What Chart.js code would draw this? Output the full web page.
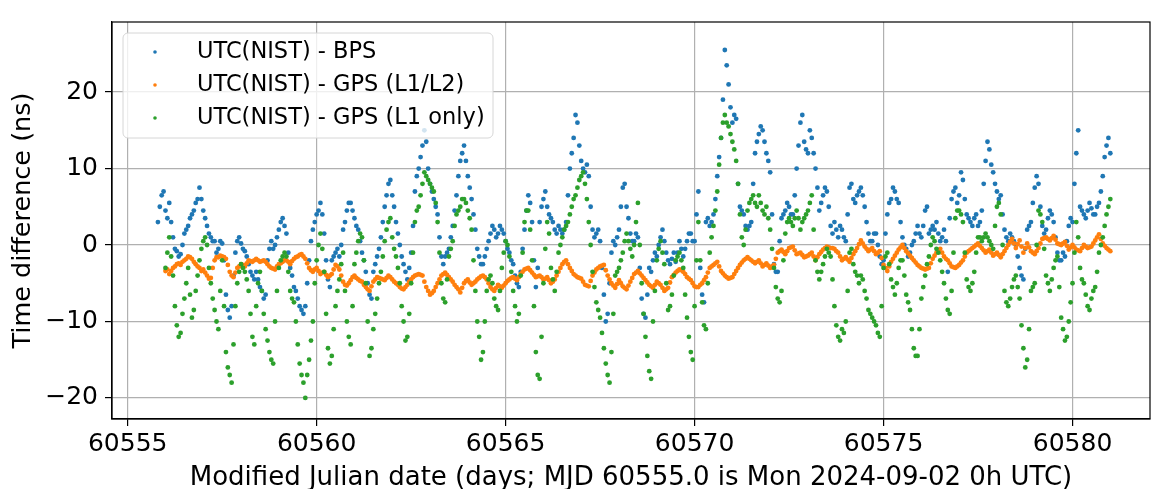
<!DOCTYPE html>
<html lang="en">
<head>
<meta charset="UTF-8">
<title>UTC(NIST) time differences</title>
<script src="https://cdn.jsdelivr.net/npm/chart.js@4"></script>
<style>
  html, body { margin: 0; padding: 0; background: #fff; }
  #wrap { width: 1153px; height: 489px; }
</style>
</head>
<body>
<div id="wrap"><canvas id="chart"></canvas></div>
<script>
// series: one value every 0.1 day, plus a second
// reading half way between (the *Half arrays, starting 0.05 day later)
const seriesLabels = ['UTC(NIST) - BPS', 'UTC(NIST) - GPS (L1/L2)', 'UTC(NIST) - GPS (L1 only)'];
const seriesColors = ['#1f77b4', '#ff7f0e', '#2ca02c'];
const sampleStep = 0.1;

const bpsStart = 60555.8;
const bpsValues = [
  3.0, 6.5,
  4.5, 5.5, 1.0, -0.8, -1.2, 1.5, 2.5, 4.0, 5.5, 7.5,
  4.5, 2.5, 1.0, 0.5, -0.5, 0.2, -6.5, -9.5, -4.0, 0.5,
  0.2, -0.8, -2.5, -4.0, -3.5, -5.5, -7.0, -2.0, 0.5, 0.0,
  2.0, 3.5, 1.5, -3.0, -5.5, -7.0, -8.5, -8.0, -2.0, 2.0,
  4.0, 5.5, 1.5, -4.5, -2.0, -1.0, -1.5, 2.0, 4.5, 5.5,
  3.5, 2.0, -1.0, -3.5, -6.5, -3.5, -1.5, 1.0, 5.0, 8.0,
  6.5, 3.0, 0.0, -2.5, -4.5, -1.0, 7.0, 10.0, 13.0, 13.5,
  8.0, 6.0, 4.0, -1.5, -1.5, -0.5, 2.5, 6.5, 11.0, 13.0,
  9.0, 6.0, 2.0, -1.5, -2.5, -0.5, 1.5, 2.0, 1.5, 2.0,
  0.5, -1.0, -2.5, -5.0, -3.5, 2.0, 6.5, 3.0, -5.5, 3.0,
  6.0, 5.0, 3.5, 2.0, 2.5, 1.5, 3.0, 10.0, 14.0, 16.0,
  11.0, 9.5, 9.0, 2.0, 1.5, 0.5, -6.5, -9.0, -1.0, 0.0,
  2.0, 7.5, 5.0, 1.5, 0.5, 1.0, -7.0, -9.5, -3.0, -2.0,
  -1.5, 1.0, 0.5, -2.0, -1.8, -2.2, 0.5, -1.5, 0.5, 1.5,
  0.5, 7.0, -6.5, 3.0, 2.5, 4.0, 9.0, 14.0, 25.5, 21.0,
  16.0, 16.5, 5.0, 4.0, 2.0, 3.0, 12.0, 14.5, 15.0, 12.0,
  9.5, -2.5, -3.5, 3.5, 4.5, 5.0, 4.0, 10.0, 16.0, 13.5,
  12.0, 14.0, 10.0, 4.5, 6.5, 7.0, 2.5, 3.0, 1.0, 2.0,
  0.5, 7.5, 6.0, 6.5, 7.5, 5.0, 1.5, 0.5, 1.5, -1.5,
  -2.0, 4.0, 6.0, 7.0, 5.5, 1.0, -0.5, -1.0, 0.5, 2.5,
  1.0, 4.5, 1.5, 2.5, 3.0, 0.5, 2.0, -3.5, 6.0, 7.5,
  6.5, 8.5, 4.0, 3.0, 3.5, 2.5, 4.5, 11.0, 12.5, 9.5,
  7.0, 6.5, 2.0, 0.5, 1.0, 0.0, -3.0, -4.5, 2.0, 3.0,
  7.5, 8.0, 2.5, 2.0, 4.5, 3.0, -1.0, -2.0, -1.5, 2.5,
  3.0, 12.0, 5.0, 4.0, 4.5, 4.8, 4.0, 5.5, 9.0, 13.0,
  12.0
];
const bpsHalfStart = 60555.85;
const bpsHalfValues = [
  5.0, 7.0,
  3.5, 3.0, -0.5, -1.5, 0.0, 2.0, 3.5, 4.5, 6.0, 6.0,
  3.5, 1.5, 0.5, -1.0, 0.5, -2.0, -8.5, -8.0, -1.0, 1.0,
  -0.5, -1.5, -3.5, -4.5, -4.5, -6.0, -6.5, -0.5, -0.5, 1.0,
  3.0, 2.5, -1.0, -4.0, -6.0, -8.0, -9.0, -5.0, 0.5, 3.0,
  4.5, 4.0, -2.0, -5.5, -1.5, -0.5, 0.0, 3.0, 5.5, 4.5,
  2.5, 0.5, -2.0, -5.0, -7.0, -2.5, -0.5, 3.0, 6.5, 8.5,
  5.0, 1.5, -1.5, -3.5, -3.0, 2.5, 9.0, 11.5, 15.0, 10.0,
  7.0, 5.0, 1.0, -2.5, -1.0, 1.0, 4.5, 9.0, 12.0, 11.0,
  7.5, 4.0, -0.5, -2.5, -1.5, 0.5, 2.5, 1.0, 2.5, 1.5,
  -0.5, -2.0, -4.0, -5.5, -0.5, 4.5, 5.5, -2.0, -3.0, 5.0,
  7.0, 4.0, 3.0, 1.5, 2.0, 2.0, 6.5, 12.0, 17.0, 13.0,
  10.0, 10.5, 5.0, 1.0, 2.0, -3.0, -10.0, -5.0, 0.5, 1.0,
  5.0, 8.0, 3.5, 0.5, 1.5, -3.0, -9.0, -6.5, -3.5, -1.0,
  0.0, 2.0, -1.0, -2.5, -1.0, -1.0, -0.5, -0.5, 1.5, 0.5,
  4.0, -3.0, -7.5, 3.5, 3.0, 6.0, 11.5, 19.0, 23.5, 18.0,
  17.0, 8.0, 4.5, 2.5, 2.5, 8.0, 13.5, 15.5, 13.5, 11.0,
  4.0, -3.5, 0.5, 4.0, 5.5, 4.0, 6.5, 13.0, 17.0, 12.5,
  15.0, 12.0, 7.5, 5.5, 7.5, 5.0, 1.5, 2.0, 2.5, 1.0,
  4.0, 8.0, 5.5, 7.0, 6.5, 3.0, 0.5, 1.5, 0.0, -2.5,
  1.5, 5.5, 7.5, 6.0, 3.0, 0.0, -1.5, 0.0, 1.5, 1.5,
  2.5, 5.0, 2.0, 2.0, 1.5, 1.0, 0.5, 3.5, 7.0, 5.5,
  9.5, 6.0, 3.5, 2.5, 4.0, 3.0, 8.0, 13.5, 10.5, 8.0,
  6.0, 4.0, 1.0, 1.5, 0.5, -1.5, -4.0, -0.5, 2.5, 5.5,
  9.0, 5.0, 1.5, 3.5, 4.0, 1.0, -2.0, -1.0, 0.5, 3.5,
  8.0, 15.0, 4.5, 3.5, 5.5, 4.0, 5.0, 7.0, 11.5, 14.0
];

const gpsL1L2Start = 60556.0;
const gpsL1L2Values = [
  -3.4, -3.8, -3.0, -2.5, -2.6, -2.0, -1.5, -1.8, -2.5, -3.0,
  -3.2, -4.0, -4.3, -2.0, -1.6, -1.5, -1.8, -3.5, -4.2, -3.0,
  -2.5, -2.8, -2.0, -2.2, -1.8, -2.2, -2.0, -2.5, -3.0, -3.2,
  -2.5, -2.2, -2.0, -2.5, -1.8, -1.5, -1.2, -1.8, -3.0, -3.5,
  -3.0, -3.8, -3.5, -4.2, -3.8, -2.6, -3.2, -4.8, -5.3, -4.6,
  -4.0, -4.5, -4.8, -5.5, -6.0, -4.8, -4.2, -4.4, -4.6, -4.0,
  -4.5, -5.0, -5.5, -5.8, -5.2, -4.5, -4.0, -3.8, -4.0, -5.5,
  -6.5, -6.0, -5.0, -4.0, -3.6, -4.2, -4.8, -5.5, -6.2, -5.0,
  -4.5, -5.2, -4.8, -4.3, -4.0, -4.5, -5.5, -6.0, -5.2, -5.6,
  -5.0, -4.5, -4.2, -4.6, -3.8, -3.2, -3.0, -3.6, -4.2, -4.0,
  -4.5, -4.2, -5.0, -4.5, -3.5, -2.5, -2.0, -3.0, -3.8, -4.2,
  -4.4, -5.2, -5.4, -4.0, -3.2, -2.8, -2.6, -4.0, -5.0, -5.6,
  -4.6, -5.4, -5.8, -4.8, -3.8, -3.4, -4.0, -4.6, -5.2, -5.6,
  -4.8, -5.2, -6.0, -5.6, -4.2, -3.6, -3.2, -3.5, -4.2, -4.6,
  -5.4, -5.5, -5.0, -4.2, -3.0, -2.6, -2.2, -3.4, -4.0, -4.4,
  -4.2, -3.4, -2.6, -2.0, -1.6, -2.0, -2.4, -2.0, -2.8, -2.4,
  -3.0, -2.6, -1.0, -0.6, -1.2, -0.4, -0.2, -1.2, -1.0, -1.6,
  -1.4, -1.0, -2.0, -1.2, -0.6, -0.2, -0.4, -0.5, -1.0, -2.0,
  -1.6, -2.2, -1.2, -0.4, 0.6, -0.2, -0.8, -0.4, -1.2, -0.8,
  -2.6, -3.4, -2.2, -1.4, -0.6, 0.0, -0.8, -1.4, -2.0, -2.6,
  -3.0, -3.2, -3.0, -1.8, -1.0, -0.5, -1.5, -2.0, -2.8, -3.0,
  -2.6, -2.0, -1.0, -0.6, -0.2, 0.2, -0.4, -1.0, -0.6, -1.4,
  -1.0, -1.6, -0.8, 0.0, 0.8, -0.4, 0.6, -1.0, 0.2, -0.8,
  -1.2, -0.4, 0.8, 1.0, 0.6, 1.2, 0.2, 0.0, 0.4, -0.6,
  0.0, -0.6, -0.8, 0.0, -0.4, -0.2, 0.6, 1.4, 0.2, -0.4,
  -0.8
];
const gpsL1L2HalfStart = 60556.05;
const gpsL1L2HalfValues = [
  -3.2, -3.4, -2.8, -2.4, -2.2, -1.8, -1.6, -2.2, -2.8, -3.4,
  -3.6, -4.4, -3.0, -1.6, -1.4, -1.6, -2.6, -4.0, -3.6, -2.8,
  -2.6, -2.4, -2.1, -2.0, -2.0, -2.1, -2.2, -2.8, -3.1, -2.8,
  -2.4, -2.0, -2.2, -2.1, -1.6, -1.3, -1.5, -2.4, -3.3, -3.2,
  -3.4, -3.6, -3.9, -4.0, -3.2, -2.8, -4.0, -5.2, -5.0, -4.2,
  -4.3, -4.7, -5.2, -5.8, -5.4, -4.5, -4.3, -4.5, -4.3, -4.2,
  -4.8, -5.2, -5.7, -5.5, -4.8, -4.2, -3.9, -3.9, -4.8, -6.0,
  -6.3, -5.5, -4.5, -3.8, -3.9, -4.5, -5.2, -5.8, -5.6, -4.7,
  -4.9, -5.0, -4.5, -4.1, -4.2, -5.0, -5.8, -5.6, -5.4, -5.3,
  -4.7, -4.3, -4.4, -4.2, -3.5, -3.1, -3.3, -3.9, -4.1, -4.2,
  -4.4, -4.6, -4.8, -4.0, -3.0, -2.2, -2.5, -3.4, -4.0, -4.3,
  -4.8, -5.3, -4.7, -3.6, -3.0, -2.7, -3.3, -4.5, -5.3, -5.1,
  -5.0, -5.6, -5.3, -4.3, -3.6, -3.7, -4.3, -4.9, -5.4, -5.2,
  -5.0, -5.6, -5.8, -4.9, -3.9, -3.4, -3.3, -3.8, -4.4, -5.0,
  -5.5, -5.2, -4.6, -3.6, -2.8, -2.4, -2.8, -3.7, -4.2, -4.3,
  -3.8, -3.0, -2.3, -1.8, -1.8, -2.2, -2.2, -2.4, -2.6, -2.7,
  -2.8, -1.8, -0.8, -0.9, -0.8, -0.3, -0.7, -1.1, -1.3, -1.5,
  -1.2, -1.5, -1.6, -0.9, -0.4, -0.3, -0.4, -0.8, -1.5, -1.8,
  -1.9, -1.7, -0.8, 0.1, 0.2, -0.5, -0.6, -0.8, -1.0, -1.7,
  -3.0, -2.8, -1.8, -1.0, -0.3, -0.4, -1.1, -1.7, -2.3, -2.8,
  -3.1, -3.1, -2.4, -1.4, -0.7, -1.0, -1.8, -2.4, -2.9, -2.8,
  -2.3, -1.5, -0.8, -0.4, 0.0, -0.1, -0.7, -0.8, -1.0, -1.2,
  -1.3, -1.2, -0.4, 0.4, 0.2, 0.1, -0.2, -0.4, -0.3, -1.0,
  -0.8, 0.2, 0.9, 0.8, 0.9, 0.7, 0.1, 0.2, -0.1, -0.3,
  -0.3, -0.7, -0.4, -0.2, -0.3, 0.2, 1.0, 0.8, -0.1, -0.6
];

const gpsL1Start = 60556.0;
const gpsL1Values = [
  -3.0, 1.0, -4.0, -10.5, -11.5, -7.0, -3.0, -9.5, -6.0, -2.0,
  0.5, 0.0, -5.0, -8.5, -11.0, -2.0, -14.0, -17.0, -13.0, -5.0,
  -2.5, -3.5, -6.0, -12.0, -8.0, -3.5, -9.0, -12.5, -15.0, -10.0,
  -3.0, -1.5, -1.5, -6.0, -7.5, -13.0, -17.0, -20.0, -15.0, -10.0,
  -2.0, 1.5, -3.5, -13.5, -14.5, -8.0, -4.5, -1.0, -10.0, -13.0,
  -2.5, 0.5, 1.0, -5.0, -14.5, -11.0, -7.0, -3.5, 0.5, 3.0,
  1.0, -1.5, -5.0, -10.0, -12.0, -5.0, 3.0, 5.0, 8.0, 9.0,
  8.0, 7.0, 3.0, -5.0, -7.5, -1.5, 0.5, 4.0, 5.0, 6.0,
  4.5, 2.0, -6.0, -12.0, -14.0, -6.0, -4.0, -7.0, -8.5, -3.0,
  0.5, -1.5, -6.0, -10.0, -4.0, 3.0, 4.5, -2.0, -14.0, -17.5,
  -5.0, 3.0, -3.0, -6.0, -1.0, 1.0, 2.5, 4.0, 6.0, 7.5,
  9.0, 8.0, 3.0, -3.5, -7.5, -9.5, -13.5, -17.0, -14.0, -4.0,
  -3.0, -1.0, 1.5, -0.5, 0.0, 5.5, -5.0, -12.0, -16.5, -10.0,
  -2.0, 0.5, -2.5, -8.5, -6.5, -2.0, -1.0, -3.0, -9.5, -14.0,
  -8.0, 3.0, -7.5, -11.0, -1.0, 2.5, 7.0, 14.0, 17.0, 15.5,
  13.5, 11.0, 4.0, 0.0, 4.5, 6.0, 5.5, 6.5, 4.5, 5.0,
  2.0, -3.0, -7.0, -6.0, 1.5, 3.5, 2.5, 4.5, 2.0, 3.5,
  4.5, 6.5, -2.0, -4.5, -2.5, -0.5, -1.5, -8.0, -12.0, -11.0,
  -10.0, -1.0, -2.5, -4.0, -4.0, -6.0, -8.5, -9.5, -10.5, -12.0,
  -3.0, -1.0, -4.5, -6.5, -3.0, -2.0, -6.5, -8.5, -13.5, -14.5,
  -7.0, -4.0, -1.5, 1.0, -0.5, -2.0, -5.0, -8.5, -6.0, 3.5,
  4.5, 3.0, -4.5, -6.0, -3.5, 1.0, 0.5, 1.5, 0.5, -0.5,
  5.0, 4.0, -6.0, -8.0, -5.5, -4.0, -7.0, -13.5, -15.0, -6.0,
  -5.0, 4.5, 3.0, -4.0, -6.0, -3.0, -1.5, -9.5, -12.5, -10.0,
  -5.0, 3.0, -3.0, -5.0, -8.0, -7.0, -5.5, -1.0, 1.0, 4.0,
  6.0
];
const gpsL1HalfStart = 60556.05;
const gpsL1HalfValues = [
  -1.0, -1.5, -8.0, -12.0, -9.0, -5.0, -6.5, -8.5, -4.0, -0.5,
  1.0, -3.0, -7.0, -10.0, -6.0, -8.0, -16.0, -18.0, -8.0, -3.5,
  -3.0, -4.5, -9.0, -13.0, -5.0, -6.0, -11.0, -14.0, -15.5, -6.0,
  -2.0, -1.0, -3.5, -7.0, -10.0, -15.5, -18.0, -17.0, -12.5, -5.0,
  0.0, -0.5, -9.0, -15.5, -11.0, -6.0, -2.5, -6.0, -12.0, -8.0,
  -1.0, 1.5, -2.0, -10.0, -13.5, -9.0, -5.0, -1.5, 2.0, 3.5,
  -0.5, -3.0, -8.0, -12.5, -9.0, -1.0, 4.5, 6.5, 9.5, 8.5,
  7.5, 5.5, -1.0, -7.0, -4.5, -0.5, 2.5, 4.5, 6.0, 5.5,
  3.5, -2.0, -10.0, -15.0, -10.0, -4.5, -5.0, -8.0, -6.0, -1.0,
  0.0, -3.5, -8.0, -9.0, -1.0, 4.5, 2.0, -8.0, -17.0, -12.0,
  -0.5, 1.5, -4.5, -3.5, 0.0, 2.0, 3.0, 5.0, 6.5, 8.5,
  9.5, 6.0, 0.0, -5.5, -8.5, -11.5, -15.5, -18.0, -9.0, -3.5,
  -2.0, 0.5, 0.5, -1.5, 3.0, 0.0, -9.0, -14.5, -17.5, -6.0,
  -0.5, -1.0, -5.0, -8.0, -4.0, -1.5, -2.0, -6.5, -12.0, -15.0,
  -2.0, -2.0, -10.5, -5.0, 1.0, 4.5, 10.5, 16.0, 16.0, 14.5,
  12.5, 8.0, 1.0, 2.0, 5.5, 6.5, 5.0, 5.5, 4.0, 3.5,
  -0.5, -5.5, -7.5, -2.0, 3.0, 3.0, 3.5, 3.5, 3.0, 4.0,
  5.5, 2.0, -3.5, -3.5, -1.5, -1.0, -4.5, -10.5, -12.5, -11.5,
  -6.0, -0.5, -3.5, -5.0, -4.5, -7.0, -9.0, -10.0, -11.5, -8.0,
  -1.5, -2.5, -5.5, -5.0, -2.0, -4.0, -7.5, -11.0, -14.5, -11.0,
  -5.5, -2.5, 0.0, 0.5, -1.0, -3.5, -7.0, -9.0, -1.0, 4.5,
  4.0, -1.0, -5.5, -5.0, -1.0, 1.0, 1.0, 1.0, 0.0, 2.5,
  5.5, 0.0, -7.5, -7.0, -4.5, -5.5, -10.5, -16.0, -11.0, -5.5,
  0.0, 4.0, -0.5, -5.0, -4.5, -2.0, -5.5, -11.0, -12.0, -7.5,
  -1.0, 1.0, -4.5, -6.5, -8.5, -6.0, -3.5, 0.0, 2.5, 5.0
];

const xTicks = [60555, 60560, 60565, 60570, 60575, 60580];
const yTicks = [-20, -10, 0, 10, 20];

function toPoints(start, values) {
  return values.map((v, i) => ({ x: +(start + i * sampleStep).toFixed(2), y: v }));
}

const FONT = '"DejaVu Sans", sans-serif';

// legend sits inside the plot, top left, like matplotlib's
const insideLegend = {
  id: 'insideLegend',
  afterDatasetsDraw(chart) {
    const ctx = chart.ctx;
    const a = chart.chartArea;
    const x = a.left + 11, y = a.top + 11, w = 370, h = 105;
    ctx.save();
    ctx.beginPath();
    ctx.roundRect(x, y, w, h, 5);
    ctx.fillStyle = 'rgba(255,255,255,0.8)';
    ctx.fill();
    ctx.strokeStyle = '#d6d6d6';
    ctx.lineWidth = 1;
    ctx.stroke();
    ctx.font = '22.5px ' + FONT;
    ctx.textBaseline = 'middle';
    seriesLabels.forEach((label, i) => {
      const ry = y + 19 + i * 33;
      ctx.fillStyle = seriesColors[i];
      ctx.beginPath();
      ctx.arc(x + 32, ry, 1.8, 0, Math.PI * 2);
      ctx.fill();
      ctx.fillStyle = '#000';
      ctx.fillText(label, x + 74, ry);
    });
    ctx.restore();
  }
};

const frame = {
  id: 'frame',
  afterDraw(chart) {
    const ctx = chart.ctx, a = chart.chartArea;
    ctx.save();
    ctx.strokeStyle = '#000';
    ctx.lineWidth = 1.2;
    ctx.strokeRect(a.left, a.top, a.right - a.left, a.bottom - a.top);
    ctx.restore();
  }
};

const fmt = v => (v < 0 ? '\u2212' + Math.abs(v) : String(v));

new Chart(document.getElementById('chart'), {
  type: 'scatter',
  data: {
    datasets: [
      { label: seriesLabels[0], data: toPoints(bpsStart, bpsValues).concat(toPoints(bpsHalfStart, bpsHalfValues)),
        backgroundColor: seriesColors[0], order: 2 },
      { label: seriesLabels[1], data: toPoints(gpsL1L2Start, gpsL1L2Values).concat(toPoints(gpsL1L2HalfStart, gpsL1L2HalfValues)),
        backgroundColor: seriesColors[1], order: 1 },
      { label: seriesLabels[2], data: toPoints(gpsL1Start, gpsL1Values).concat(toPoints(gpsL1HalfStart, gpsL1HalfValues)),
        backgroundColor: seriesColors[2], order: 0 }
    ]
  },
  options: {
    responsive: true,
    maintainAspectRatio: false,
    animation: false,
    layout: { padding: { top: 11, right: 3, left: 0, bottom: 0 } },
    elements: { point: { radius: 2.4, borderWidth: 0, hoverRadius: 2.4 } },
    plugins: { legend: { display: false }, tooltip: { enabled: false } },
    scales: {
      x: {
        type: 'linear',
        min: 60554.585,
        max: 60582.05,
        afterBuildTicks: s => { s.ticks = xTicks.map(v => ({ value: v })); },
        afterFit: s => { s.height = 70; },
        grid: { color: '#b0b0b0', lineWidth: 1.2, tickColor: '#000', tickLength: 7, tickWidth: 1.2 },
        border: { color: '#000', width: 1.2 },
        ticks: { color: '#000', font: { family: FONT, size: 25 }, padding: 3, maxRotation: 0, callback: v => String(v) },
        title: {
          display: true,
          text: 'Modified Julian date (days; MJD 60555.0 is Mon 2024-09-02 0h UTC)',
          color: '#000',
          font: { family: FONT, size: 26 },
          padding: { top: 0, bottom: -4.5 }
        }
      },
      y: {
        min: -22.75,
        max: 29.16,
        afterBuildTicks: s => { s.ticks = yTicks.map(v => ({ value: v })); },
        afterFit: s => { s.width = 112; },
        grid: { color: '#b0b0b0', lineWidth: 1.2, tickColor: '#000', tickLength: 7, tickWidth: 1.2 },
        border: { color: '#000', width: 1.2 },
        ticks: { color: '#000', font: { family: FONT, size: 25 }, padding: 7, callback: fmt },
        title: {
          display: true,
          text: 'Time difference (ns)',
          color: '#000',
          font: { family: FONT, size: 25.5 },
          padding: { top: 8, bottom: 0 }
        }
      }
    }
  },
  plugins: [insideLegend, frame]
});
</script>
</body>
</html>
